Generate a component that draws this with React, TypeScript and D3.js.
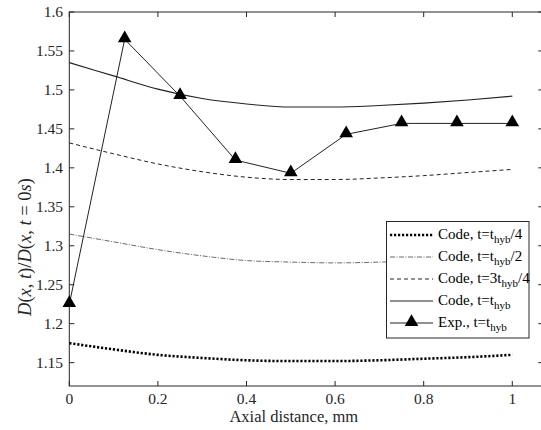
import React, { useEffect, useRef } from "react";
import * as d3 from "d3";

const xCode = [0, 0.1, 0.2, 0.3, 0.4, 0.5, 0.6, 0.7, 0.8, 0.9, 1.0];
const codeQuarter = [1.175, 1.167, 1.16, 1.156, 1.153, 1.152, 1.152, 1.153, 1.155, 1.157, 1.16];
const codeHalf = [1.315, 1.305, 1.295, 1.287, 1.281, 1.279, 1.278, 1.279, 1.281, 1.283, 1.286];
const codeThreeQuarter = [1.432, 1.418, 1.405, 1.395, 1.388, 1.385, 1.385, 1.387, 1.39, 1.394, 1.398];
const codeFull = [1.535, 1.518, 1.501, 1.489, 1.482, 1.478, 1.478, 1.48, 1.483, 1.487, 1.492];

const xExp = [0, 0.125, 0.25, 0.375, 0.5, 0.625, 0.75, 0.875, 1.0];
const expFull = [1.225, 1.565, 1.492, 1.41, 1.393, 1.443, 1.457, 1.457, 1.457];

const xTicks = [0, 0.2, 0.4, 0.6, 0.8, 1];
const yTicks = [1.15, 1.2, 1.25, 1.3, 1.35, 1.4, 1.45, 1.5, 1.55, 1.6];

const legendItems = [
  { pre: "Code, t=t", sub: "hyb", post: "/4", style: "dotted" },
  { pre: "Code, t=t", sub: "hyb", post: "/2", style: "dashdot" },
  { pre: "Code, t=3t", sub: "hyb", post: "/4", style: "dashed" },
  { pre: "Code, t=t", sub: "hyb", post: "", style: "solid" },
  { pre: "Exp., t=t", sub: "hyb", post: "", style: "marker" },
];

const FONT = "'Liberation Serif', 'DejaVu Serif', serif";
const AX = "#262626";

const lineStyles: Record<string, { w: number; dash: string | null; color: string }> = {
  dotted: { w: 2.6, dash: "2.2,1.8", color: "#000" },
  dashdot: { w: 0.8, dash: "5,1.5,1,1.5", color: "#444" },
  dashed: { w: 1, dash: "4,3", color: "#222" },
  solid: { w: 1.1, dash: null, color: "#222" },
  marker: { w: 1, dash: null, color: "#222" },
};

const App = () => {
  const svgRef = useRef<SVGSVGElement>(null);

  useEffect(() => {
    const svg = d3.select(svgRef.current);
    svg.selectAll("*").remove();

    const x = d3.scaleLinear().domain([0, 1.07]).range([69.3, 543.3]);
    const y = d3.scaleLinear().domain([1.12, 1.6]).range([386, 12]);
    const [x0, x1] = x.range();
    const [y0, y1] = y.range();

    svg.append("rect").attr("width", 541).attr("height", 430).attr("fill", "#fff");

    // box
    svg.append("rect")
      .attr("x", x0).attr("y", y1)
      .attr("width", x1 - x0).attr("height", y0 - y1)
      .attr("fill", "none").attr("stroke", AX).attr("stroke-width", 1);

    // ticks (inward, on all four sides)
    const tl = 5;
    const tg = svg.append("g").attr("stroke", AX).attr("stroke-width", 1);
    xTicks.forEach(t => {
      tg.append("line").attr("x1", x(t)).attr("x2", x(t)).attr("y1", y0).attr("y2", y0 - tl);
      tg.append("line").attr("x1", x(t)).attr("x2", x(t)).attr("y1", y1).attr("y2", y1 + tl);
    });
    yTicks.forEach(t => {
      tg.append("line").attr("x1", x0).attr("x2", x0 + tl).attr("y1", y(t)).attr("y2", y(t));
      tg.append("line").attr("x1", x1).attr("x2", x1 - tl).attr("y1", y(t)).attr("y2", y(t));
    });

    // tick labels
    svg.append("g").selectAll("text").data(xTicks).enter().append("text")
      .attr("x", d => x(d)).attr("y", 404)
      .attr("text-anchor", "middle")
      .attr("font-family", FONT).attr("font-size", 15.5).attr("fill", AX)
      .text(d => d3.format("~g")(d));
    svg.append("g").selectAll("text").data(yTicks).enter().append("text")
      .attr("x", 63).attr("y", d => y(d) + 5)
      .attr("text-anchor", "end")
      .attr("font-family", FONT).attr("font-size", 15.5).attr("fill", AX)
      .text(d => d3.format("~g")(d));

    // axis titles
    svg.append("text")
      .attr("x", x(0.5) + 3).attr("y", 422)
      .attr("text-anchor", "middle")
      .attr("font-family", FONT).attr("font-size", 16.5).attr("fill", AX)
      .text("Axial distance, mm");

    const yl = svg.append("text")
      .attr("transform", "translate(31,247) rotate(-90)")
      .attr("text-anchor", "middle")
      .attr("font-family", FONT).attr("font-size", 18.5).attr("fill", AX);
    const parts: [string, boolean][] = [
      ["D", true], ["(", false], ["x", true], [", ", false], ["t", true], [")/", false],
      ["D", true], ["(", false], ["x", true], [", ", false], ["t", true], [" = 0", false],
      ["s", true], [")", false],
    ];
    parts.forEach(([s, it]) => {
      yl.append("tspan").attr("font-style", it ? "italic" : "normal").text(s);
    });

    const line = (xs: number[]) =>
      d3.line<number>().x((_, i) => x(xs[i])).y(d => y(d)).curve(d3.curveMonotoneX);
    const plot = svg.append("g");
    const series: [number[], string][] = [
      [codeQuarter, "dotted"],
      [codeHalf, "dashdot"],
      [codeThreeQuarter, "dashed"],
      [codeFull, "solid"],
    ];
    series.forEach(([vals, st]) => {
      const s = lineStyles[st];
      plot.append("path")
        .attr("d", line(xCode)(vals))
        .attr("fill", "none").attr("stroke", s.color)
        .attr("stroke-width", s.w)
        .attr("stroke-dasharray", s.dash);
    });

    plot.append("path")
      .attr("d", d3.line<number>().x((_, i) => x(xExp[i])).y(d => y(d))(expFull))
      .attr("fill", "none").attr("stroke", "#222").attr("stroke-width", 1);
    const tri = d3.symbol().type(d3.symbolTriangle).size(80);
    plot.selectAll("path.tri").data(expFull).enter().append("path")
      .attr("class", "tri")
      .attr("d", tri())
      .attr("transform", (d, i) => `translate(${x(xExp[i])},${y(d) - 1})`)
      .attr("fill", "#000");

    // legend
    const lg = svg.append("g");
    lg.append("rect")
      .attr("x", 386.5).attr("y", 221.5).attr("width", 142.5).attr("height", 116.5)
      .attr("fill", "#fff").attr("stroke", AX).attr("stroke-width", 1);
    legendItems.forEach((it, i) => {
      const cy = 235 + i * 22;
      const s = lineStyles[it.style];
      lg.append("line")
        .attr("x1", 390).attr("x2", 433).attr("y1", cy).attr("y2", cy)
        .attr("stroke", s.color).attr("stroke-width", s.w)
        .attr("stroke-dasharray", s.dash);
      if (it.style === "marker") {
        lg.append("path").attr("d", tri()).attr("transform", `translate(411.5,${cy - 1})`).attr("fill", "#000");
      }
      const t = lg.append("text")
        .attr("x", 438).attr("y", cy + 4)
        .attr("font-family", FONT).attr("font-size", 15).attr("fill", "#000");
      t.append("tspan").text(it.pre);
      t.append("tspan").attr("font-size", 11).attr("dy", 4).text(it.sub);
      if (it.post) t.append("tspan").attr("dy", -4).text(it.post);
    });
  }, []);

  return (
    <svg
      ref={svgRef}
      width={541}
      height={430}
      style={{ position: "absolute", left: 0, top: 0 }}
    />
  );
};

export default App;
